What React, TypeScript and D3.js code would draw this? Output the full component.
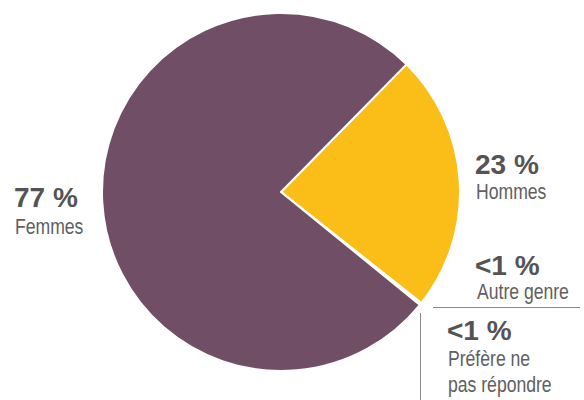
import React from "react";
import * as d3 from "d3";

const categories = ["Hommes", "Autre genre", "Préfère ne pas répondre", "Femmes"];
const values = [23.3, 0.1, 0.1, 76.5];
const colors = ["#FBBE18", "#9a9a9a", "#c8c8c8", "#704F66"];

const W = 584;
const H = 400;
const cx = 281;
const cy = 192;
const R = 179;

const FONT = "'Liberation Sans', Arial, sans-serif";

export default function App() {
  const pie = d3
    .pie<number>()
    .sort(null)
    .value((d) => d)
    .startAngle((44.5 * Math.PI) / 180)
    .endAngle((44.5 * Math.PI) / 180 + 2 * Math.PI);
  const arcs = pie(values);
  const arc = d3.arc<d3.PieArcDatum<number>>().innerRadius(0).outerRadius(R);

  const big = (x: number, y: number, t: string) => (
    <text x={x} y={y} fontFamily={FONT} fontWeight="bold" fontSize={28} fill="#545454">
      {t}
    </text>
  );
  const small = (x: number, y: number, t: string) => (
    <text
      transform={`translate(${x},${y}) scale(0.8,1)`}
      fontFamily={FONT}
      fontSize={22}
      fill="#606060"
    >
      {t}
    </text>
  );

  return (
    <svg width={W} height={H} style={{ position: "absolute", left: 0, top: 0 }}>
      <g transform={`translate(${cx},${cy})`}>
        {arcs.map((a, i) => (
          <path key={categories[i]} d={arc(a) || ""} fill={colors[i]} stroke="#fff" strokeWidth={2} strokeLinejoin="round" />
        ))}
      </g>
      {big(14, 207, "77 %")}
      {small(15, 234, "Femmes")}
      {big(475, 174, "23 %")}
      {small(476, 199, "Hommes")}
      {big(475, 275, "<1 %")}
      {small(477, 299, "Autre genre")}
      <line x1={433} x2={580} y1={307.5} y2={307.5} stroke="#8a8a8a" strokeWidth={1} />
      <line x1={420.5} x2={420.5} y1={313} y2={400} stroke="#8a8a8a" strokeWidth={1} />
      {big(447, 340, "<1 %")}
      {small(448, 366, "Préfère ne")}
      {small(448, 392, "pas répondre")}
    </svg>
  );
}
